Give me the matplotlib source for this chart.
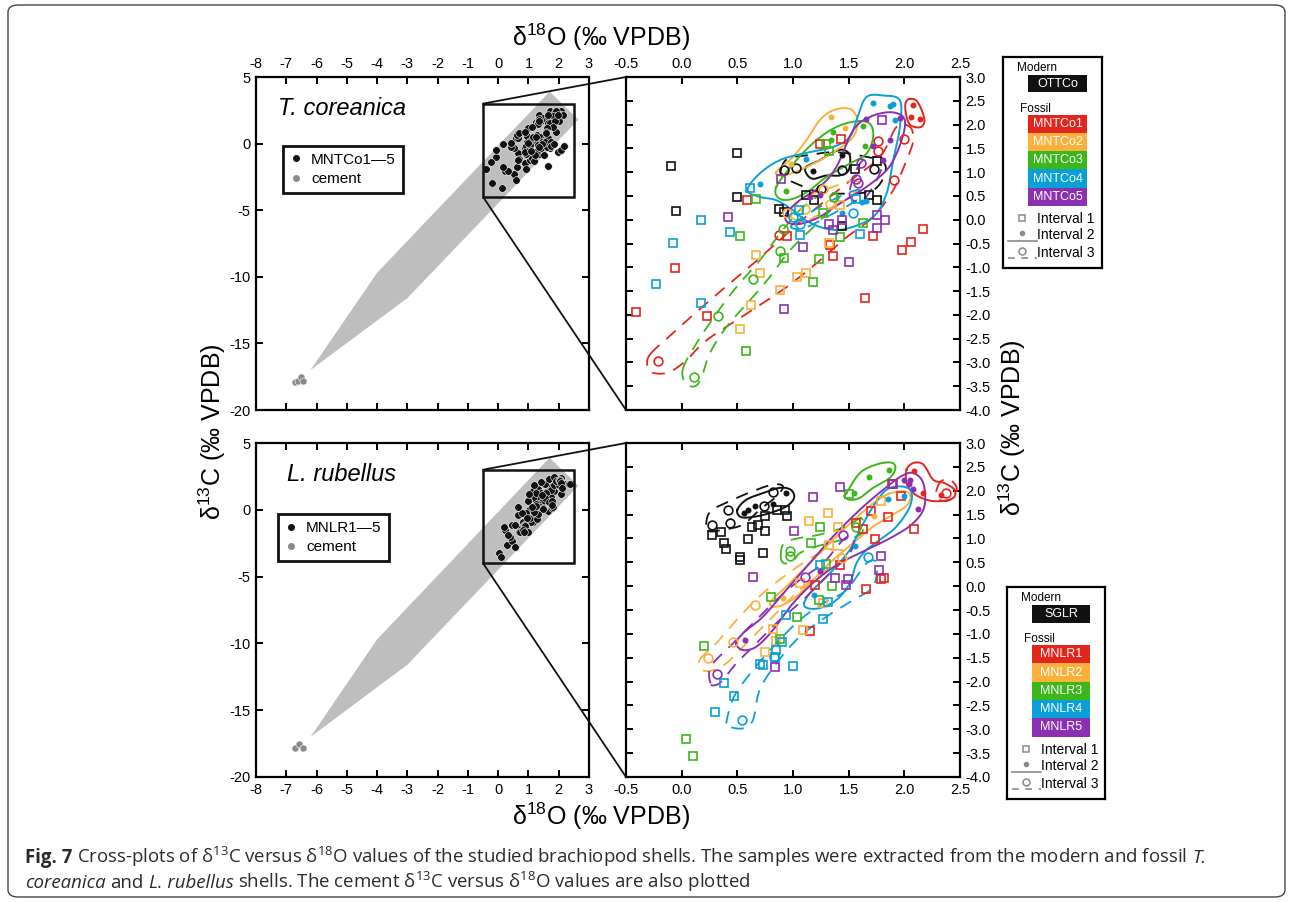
import numpy as np
import matplotlib
matplotlib.use("Agg")
import matplotlib.pyplot as plt
from matplotlib.patches import Rectangle, FancyBboxPatch, ConnectionPatch
from matplotlib.lines import Line2D
from matplotlib.ticker import MultipleLocator, FuncFormatter
from matplotlib.font_manager import FontProperties
from matplotlib import font_manager

plt.rcParams['font.family'] = ['Liberation Sans', 'DejaVu Sans']
plt.rcParams['mathtext.default'] = 'regular'
plt.rcParams['axes.unicode_minus'] = False

W, H = 1290, 902

# ---------------- data ----------------
COLORS = ["#111111", "#e3261d", "#fbb03b", "#3cb71b", "#0aa0d7", "#8b2fb3"]
TC_NAMES = ["OTTCo", "MNTCo1", "MNTCo2", "MNTCo3", "MNTCo4", "MNTCo5"]
LR_NAMES = ["SGLR", "MNLR1", "MNLR2", "MNLR3", "MNLR4", "MNLR5"]

# grey diagenetic trend band (left panels)
BAND_X = [-6.2, -4.0, 1.7, 2.65, -3.0]
BAND_Y = [-17.0, -9.7, 3.9, 1.8, -11.6]

CEMENT_TC_X = [-6.71, -6.61, -6.51, -6.45]
CEMENT_TC_Y = [-17.9, -17.85, -17.5, -17.8]
CEMENT_LR_X = [-6.70, -6.58, -6.45]
CEMENT_LR_Y = [-17.83, -17.5, -17.8]

# --- T. coreanica (interval 1 = squares, 2 = dots, 3 = rings) ---
TC_OTTCO_SQ = [(-0.10, 1.13), (0.50, 1.40), (0.50, 0.47), (-0.05, 0.18), (0.87, 0.22), (0.92, 0.17),
               (1.12, 0.52), (1.19, 0.41), (1.44, -0.13), (1.56, 1.07), (1.68, 0.52), (1.75, 0.41), (1.75, 1.23)]
TC_OTTCO_DOT = [(1.18, 1.03), (1.44, 1.37)]
TC_OTTCO_RING = [(0.92, 1.04), (1.03, 1.09), (1.44, 1.04), (1.73, 1.07), (1.25, 0.65)]
TC_MNTCO1_SQ = [(-0.41, -1.94), (-0.06, -1.01), (0.23, -2.03), (0.59, 0.41), (0.95, -0.35), (1.33, -0.54),
                (1.36, -0.77), (1.65, -1.65), (1.72, -0.35), (1.98, -0.63), (2.06, -0.47), (2.17, -0.19),
                (1.24, 1.60), (1.43, 1.69)]
TC_MNTCO1_DOT = [(2.08, 2.41), (2.06, 2.15), (2.14, 2.11)]
TC_MNTCO1_RING = [(-0.21, -2.98), (0.87, -0.32), (1.76, 1.65), (1.76, 1.44), (1.91, 0.84), (2.00, 1.70)]
TC_MNTCO2_SQ = [(0.67, -0.74), (0.70, -1.12), (0.88, -1.48), (0.62, -1.79), (0.52, -2.30), (1.04, -1.21),
                (1.12, -1.11), (1.32, -0.48), (1.42, 0.31)]
TC_MNTCO2_DOT = [(1.34, 2.16), (0.98, 1.18), (1.47, 1.92)]
TC_MNTCO2_RING = [(1.11, 0.23), (1.27, 0.65), (1.33, 0.34), (0.95, 0.15)]
TC_MNTCO3_SQ = [(0.67, 0.43), (0.52, -0.34), (0.92, -0.81), (1.18, -1.31), (1.23, -0.83), (0.58, -2.77),
                (1.27, 0.15), (1.42, -0.36), (1.63, -0.06), (1.30, 1.60), (1.32, 1.45)]
TC_MNTCO3_DOT = [(1.36, 1.85), (1.34, 1.67), (1.63, 1.98), (1.65, 1.56), (0.94, 0.60)]
TC_MNTCO3_RING = [(0.91, -0.20), (0.88, -0.66), (0.64, -1.24), (0.33, -2.02), (0.11, -3.31), (1.37, 0.48)]
TC_MNTCO4_SQ = [(0.17, 0.0), (-0.08, -0.48), (-0.23, -1.35), (0.17, -1.75), (0.43, -0.25), (0.61, 0.66),
                (1.06, -0.32), (1.05, 0.20), (1.60, -0.29), (1.57, 0.43)]
TC_MNTCO4_DOT = [(1.72, 2.45), (1.87, 2.40), (1.90, 2.43), (1.92, 2.10), (0.70, 0.76), (1.12, 1.27),
                 (1.44, 0.15), (1.62, 0.38), (1.66, 0.40)]
TC_MNTCO4_RING = [(1.54, 0.14), (1.06, -0.09), (1.00, 0.05)]
TC_MNTCO5_SQ = [(0.42, 0.06), (0.89, 0.86), (1.09, -0.57), (0.92, -1.88), (1.50, -0.88), (1.32, -0.08),
                (1.44, 0.0), (1.75, 0.10), (1.75, -0.17), (1.83, -0.01), (1.80, 2.10), (1.36, -0.22)]
TC_MNTCO5_DOT = [(1.15, 0.48), (1.24, 0.52), (1.72, 1.55), (1.87, 1.68), (1.81, 1.25), (1.96, 2.14), (1.66, 2.11)]
TC_MNTCO5_RING = [(1.61, 1.19), (1.57, 0.85), (1.58, 0.77)]

# enclosing loops (interval 2 solid, interval 3 dashed)
TC_OTTCO_LOOP2 = [(1.12, 1.11), (1.24, 1.25), (1.36, 1.42), (1.45, 1.47), (1.51, 1.35), (1.50, 1.04),
                  (1.42, 0.93), (1.30, 0.93), (1.18, 0.86), (1.12, 0.97)]
TC_OTTCO_LOOP3 = [(0.89, 1.04), (0.95, 1.28), (1.12, 1.35), (1.36, 1.42), (1.60, 1.35), (1.81, 1.21),
                  (1.82, 0.93), (1.72, 0.62), (1.51, 0.55), (1.24, 0.58), (1.03, 0.76), (0.91, 0.90)]
TC_MNTCO1_LOOP2 = [(2.05, 2.54), (2.12, 2.47), (2.18, 2.12), (2.15, 1.95), (2.06, 1.98), (2.02, 2.16), (2.01, 2.44)]
TC_MNTCO1_LOOP3 = [(-0.28, -2.82), (-0.12, -2.47), (0.25, -1.70), (0.64, -0.93), (0.94, -0.30), (1.18, 0.19),
                   (1.48, 0.76), (1.78, 1.32), (1.93, 1.95), (2.05, 1.95), (2.08, 1.67), (2.02, 1.25),
                   (1.90, 0.62), (1.72, 0.06), (1.48, -0.37), (1.24, -0.86), (0.94, -1.42), (0.58, -1.98),
                   (0.22, -2.54), (0.04, -2.96), (-0.12, -3.21), (-0.27, -3.21), (-0.31, -3.03)]
TC_MNTCO2_LOOP2 = [(0.85, 1.00), (1.00, 1.32), (1.12, 1.67), (1.24, 2.09), (1.36, 2.30), (1.51, 2.33),
                   (1.58, 2.09), (1.54, 1.74), (1.39, 1.46), (1.24, 1.25), (1.06, 1.04), (0.91, 0.93)]
TC_MNTCO2_LOOP3 = [(0.97, 0.20), (1.12, 0.48), (1.36, 0.69), (1.54, 0.83), (1.60, 0.72), (1.51, 0.48),
                   (1.30, 0.20), (1.12, -0.02), (1.00, 0.02)]
TC_MNTCO3_LOOP2 = [(0.85, 0.69), (1.03, 1.25), (1.21, 1.67), (1.39, 1.95), (1.57, 2.07), (1.69, 2.02),
                   (1.72, 1.74), (1.66, 1.39), (1.51, 1.18), (1.30, 0.90), (1.15, 0.62), (1.00, 0.44), (0.88, 0.44)]
TC_MNTCO3_LOOP3 = [(0.01, -3.14), (0.13, -2.61), (0.31, -1.98), (0.49, -1.42), (0.70, -0.86), (0.88, -0.30),
                   (1.06, 0.20), (1.27, 0.55), (1.39, 0.55), (1.36, 0.27), (1.18, -0.16), (0.97, -0.65),
                   (0.79, -1.21), (0.61, -1.70), (0.40, -2.26), (0.25, -2.82), (0.19, -3.24), (0.13, -3.49),
                   (0.04, -3.45)]
TC_MNTCO4_LOOP2 = [(0.59, 0.62), (0.70, 0.97), (0.88, 1.25), (1.09, 1.39), (1.36, 1.53), (1.51, 1.74),
                   (1.58, 2.16), (1.66, 2.58), (1.81, 2.61), (1.96, 2.51), (1.96, 1.95), (1.90, 1.25),
                   (1.84, 0.55), (1.72, 0.06), (1.48, -0.19), (1.30, -0.19), (1.12, -0.02), (1.00, 0.20),
                   (0.85, 0.41), (0.70, 0.48)]
TC_MNTCO4_LOOP3 = [(1.00, -0.09), (1.24, 0.27), (1.48, 0.55), (1.60, 0.62), (1.57, 0.41), (1.36, 0.13),
                   (1.12, -0.16), (1.01, -0.19)]
TC_MNTCO5_LOOP2 = [(0.94, 0.13), (1.06, 0.41), (1.24, 0.69), (1.39, 1.11), (1.54, 1.88), (1.69, 2.16),
                   (1.87, 2.26), (1.99, 2.16), (2.00, 1.88), (1.93, 1.39), (1.84, 1.04), (1.66, 0.69),
                   (1.42, 0.34), (1.24, 0.06), (1.06, -0.09), (0.95, -0.05)]
TC_MNTCO5_LOOP3 = [(1.51, 0.62), (1.60, 1.18), (1.72, 1.32), (1.81, 1.25), (1.75, 0.83), (1.63, 0.41), (1.54, 0.41)]

# --- L. rubellus ---
LR_SGLR_SQ = [(0.27, 1.08), (0.35, 1.13), (0.38, 0.90), (0.40, 0.77), (0.52, 0.62), (0.52, 0.54), (0.60, 0.98),
              (0.63, 1.25), (0.69, 1.29), (0.75, 1.15), (0.73, 0.69), (0.75, 1.48), (0.86, 1.59), (0.93, 1.60),
              (0.95, 1.47)]
LR_SGLR_DOT = [(0.56, 1.53), (0.60, 1.60), (0.66, 1.69), (0.82, 1.73), (0.94, 1.95)]
LR_SGLR_RING = [(0.27, 1.29), (0.42, 1.60), (0.43, 1.32), (0.74, 1.67), (0.82, 1.97)]
LR_MNLR1_SQ = [(1.70, 1.58), (1.63, 1.19), (1.57, 1.33), (1.85, 1.44), (1.74, 0.98), (1.97, 1.88), (1.89, 2.15),
               (2.09, 1.20), (1.42, 0.45), (1.20, 0.03), (1.15, -0.95), (1.66, -0.06), (1.79, 0.15), (1.82, 0.18)]
LR_MNLR1_DOT = [(2.09, 2.41), (2.17, 1.95), (2.33, 1.92)]
LR_MNLR1_RING = [(2.37, 1.96)]
LR_MNLR2_SQ = [(1.14, 1.37), (1.31, 1.53), (1.06, 0.07), (0.82, -0.90), (0.75, -1.39), (1.09, -0.92), (1.32, 0.87),
               (1.40, 1.24), (1.27, -0.36), (1.79, 1.78), (0.85, -1.16)]
LR_MNLR2_DOT = [(0.91, -0.24), (1.73, 1.47)]
LR_MNLR2_RING = [(0.24, -1.50), (0.46, -1.17), (0.66, -0.39), (1.44, 0.59)]
LR_MNLR3_SQ = [(0.04, -3.21), (0.10, -3.56), (0.20, -1.25), (0.80, -0.23), (1.04, -0.64), (0.88, -1.11),
               (1.23, -0.30), (1.35, 0.0), (1.16, 0.90), (1.24, 1.24), (1.50, 1.93), (1.30, 0.46)]
LR_MNLR3_DOT = [(1.55, 1.96), (1.68, 2.29), (1.86, 2.43)]
LR_MNLR3_RING = [(0.97, 0.74), (0.97, 0.64), (1.57, 1.24)]
LR_MNLR4_SQ = [(0.30, -2.63), (0.47, -2.30), (0.38, -2.04), (0.70, -1.64), (0.73, -1.66), (0.84, -1.48),
               (0.85, -1.34), (0.90, -1.18), (0.94, -0.61), (1.00, -1.67), (1.27, -0.69), (1.24, 0.45), (1.31, -0.34)]
LR_MNLR4_DOT = [(1.19, -0.18), (1.56, 0.85), (1.85, 1.82), (2.00, 1.89)]
LR_MNLR4_RING = [(0.54, -2.81), (0.83, -1.48), (1.67, 0.61)]
LR_MNLR5_SQ = [(1.42, 2.08), (1.18, 1.86), (1.01, 1.16), (0.64, 0.20), (1.38, 0.18), (1.49, 0.15), (1.48, 0.03),
               (1.79, 0.64), (1.77, 0.34), (0.84, -1.69), (1.90, 2.15)]
LR_MNLR5_DOT = [(0.57, -1.13), (1.24, 0.32), (2.00, 2.23), (2.05, 2.23), (2.04, 2.14), (2.08, 2.04), (2.12, 1.62)]
LR_MNLR5_RING = [(0.32, -1.85), (1.11, 0.20), (1.45, 1.08)]

LR_SGLR_LOOP2 = [(0.50, 1.60), (0.58, 1.81), (0.73, 1.95), (0.88, 2.06), (0.98, 2.02), (1.01, 1.85), (0.94, 1.67),
                 (0.79, 1.53), (0.64, 1.45), (0.53, 1.45)]
LR_SGLR_LOOP3 = [(0.22, 1.29), (0.26, 1.57), (0.43, 1.78), (0.64, 1.99), (0.82, 2.13), (0.91, 2.09), (0.85, 1.88),
                 (0.70, 1.60), (0.55, 1.29), (0.37, 1.18), (0.25, 1.15)]
LR_MNLR1_LOOP2 = [(2.02, 2.44), (2.08, 2.58), (2.17, 2.55), (2.26, 2.23), (2.36, 2.16), (2.45, 2.02), (2.44, 1.85),
                  (2.32, 1.78), (2.20, 1.81), (2.08, 1.95), (2.02, 2.16)]
LR_MNLR1_LOOP3 = [(2.29, 2.02), (2.33, 2.20), (2.41, 2.23), (2.47, 2.06), (2.44, 1.85), (2.35, 1.78), (2.29, 1.88)]
LR_MNLR2_LOOP2 = [(0.80, -0.32), (0.94, -0.01), (1.12, 0.41), (1.36, 0.97), (1.60, 1.50), (1.81, 1.88),
                  (1.97, 1.99), (2.05, 1.92), (2.03, 1.71), (1.90, 1.50), (1.72, 1.25), (1.54, 0.90),
                  (1.36, 0.55), (1.18, 0.13), (1.03, -0.22), (0.91, -0.39), (0.82, -0.43)]
LR_MNLR2_LOOP3 = [(0.16, -1.55), (0.31, -1.20), (0.52, -0.64), (0.73, -0.15), (1.00, 0.34), (1.24, 0.69),
                  (1.43, 0.76), (1.48, 0.62), (1.30, 0.34), (1.06, -0.08), (0.79, -0.71), (0.58, -1.20),
                  (0.40, -1.62), (0.28, -1.76), (0.19, -1.76)]
LR_MNLR3_LOOP2 = [(1.48, 1.95), (1.60, 2.37), (1.75, 2.55), (1.88, 2.59), (1.92, 2.48), (1.87, 2.27),
                  (1.72, 2.06), (1.60, 1.85), (1.51, 1.81), (1.46, 1.88)]
LR_MNLR3_LOOP3 = [(0.89, 0.62), (0.92, 0.90), (1.06, 1.01), (1.24, 1.08), (1.48, 1.25), (1.61, 1.43),
                  (1.63, 1.18), (1.57, 1.04), (1.39, 0.94), (1.21, 0.83), (1.06, 0.69), (1.00, 0.52), (0.92, 0.48)]
LR_MNLR4_LOOP2 = [(1.10, -0.36), (1.15, -0.15), (1.24, 0.06), (1.36, 0.34), (1.51, 0.76), (1.60, 1.18),
                  (1.72, 1.67), (1.84, 2.02), (1.97, 2.09), (2.06, 1.99), (2.05, 1.67), (1.93, 1.25),
                  (1.78, 0.97), (1.66, 0.76), (1.57, 0.48), (1.51, 0.06), (1.39, -0.29), (1.24, -0.46), (1.13, -0.46)]
LR_MNLR4_LOOP3 = [(0.40, -2.88), (0.47, -2.32), (0.64, -1.76), (0.85, -1.20), (1.06, -0.71), (1.27, -0.36),
                  (1.48, -0.08), (1.66, 0.48), (1.75, 0.48), (1.72, -0.01), (1.54, -0.29), (1.30, -0.64),
                  (1.06, -1.06), (0.85, -1.62), (0.70, -2.18), (0.64, -2.81), (0.55, -2.98), (0.43, -2.95)]
LR_MNLR5_LOOP2 = [(0.49, -1.20), (0.55, -0.99), (0.73, -0.64), (0.94, -0.08), (1.15, 0.48), (1.36, 1.04),
                  (1.60, 1.60), (1.81, 2.02), (1.97, 2.30), (2.08, 2.37), (2.17, 2.16), (2.18, 1.67),
                  (2.08, 1.32), (1.90, 1.04), (1.66, 0.76), (1.42, 0.48), (1.21, 0.13), (1.00, -0.36),
                  (0.82, -0.92), (0.67, -1.27), (0.55, -1.34)]
LR_MNLR5_LOOP3 = [(0.26, -2.04), (0.26, -1.69), (0.43, -1.27), (0.64, -0.78), (0.85, -0.29), (1.06, 0.13),
                  (1.27, 0.48), (1.45, 0.97), (1.54, 1.04), (1.51, 0.69), (1.30, 0.20), (1.09, -0.29),
                  (0.88, -0.71), (0.67, -1.20), (0.49, -1.62), (0.37, -1.97), (0.31, -2.07)]

TC_SERIES = [
    (TC_OTTCO_SQ, TC_OTTCO_DOT, TC_OTTCO_RING, TC_OTTCO_LOOP2, TC_OTTCO_LOOP3),
    (TC_MNTCO1_SQ, TC_MNTCO1_DOT, TC_MNTCO1_RING, TC_MNTCO1_LOOP2, TC_MNTCO1_LOOP3),
    (TC_MNTCO2_SQ, TC_MNTCO2_DOT, TC_MNTCO2_RING, TC_MNTCO2_LOOP2, TC_MNTCO2_LOOP3),
    (TC_MNTCO3_SQ, TC_MNTCO3_DOT, TC_MNTCO3_RING, TC_MNTCO3_LOOP2, TC_MNTCO3_LOOP3),
    (TC_MNTCO4_SQ, TC_MNTCO4_DOT, TC_MNTCO4_RING, TC_MNTCO4_LOOP2, TC_MNTCO4_LOOP3),
    (TC_MNTCO5_SQ, TC_MNTCO5_DOT, TC_MNTCO5_RING, TC_MNTCO5_LOOP2, TC_MNTCO5_LOOP3),
]
LR_SERIES = [
    (LR_SGLR_SQ, LR_SGLR_DOT, LR_SGLR_RING, LR_SGLR_LOOP2, LR_SGLR_LOOP3),
    (LR_MNLR1_SQ, LR_MNLR1_DOT, LR_MNLR1_RING, LR_MNLR1_LOOP2, LR_MNLR1_LOOP3),
    (LR_MNLR2_SQ, LR_MNLR2_DOT, LR_MNLR2_RING, LR_MNLR2_LOOP2, LR_MNLR2_LOOP3),
    (LR_MNLR3_SQ, LR_MNLR3_DOT, LR_MNLR3_RING, LR_MNLR3_LOOP2, LR_MNLR3_LOOP3),
    (LR_MNLR4_SQ, LR_MNLR4_DOT, LR_MNLR4_RING, LR_MNLR4_LOOP2, LR_MNLR4_LOOP3),
    (LR_MNLR5_SQ, LR_MNLR5_DOT, LR_MNLR5_RING, LR_MNLR5_LOOP2, LR_MNLR5_LOOP3),
]


# ---------------- helpers ----------------
def smooth_loop(pts, n=16):
    # closed Catmull-Rom curve through the given points
    p = np.asarray(pts, dtype=float)
    m = len(p)
    t = np.linspace(0, 1, n, endpoint=False)[:, None]
    segs = []
    for i in range(m):
        p0, p1, p2, p3 = p[(i - 1) % m], p[i], p[(i + 1) % m], p[(i + 2) % m]
        segs.append(0.5 * (2 * p1 + (-p0 + p2) * t + (2 * p0 - 5 * p1 + 4 * p2 - p3) * t ** 2
                           + (-p0 + 3 * p1 - 3 * p2 + p3) * t ** 3))
    out = np.vstack(segs)
    return np.vstack([out, out[:1]])


def xy(pts):
    a = np.asarray(pts, dtype=float).reshape(-1, 2)
    return a[:, 0], a[:, 1]


def px(x, y, w=0, h=0):
    return [x / W, 1 - (y + h) / H, w / W, h / H]


def style_ticks(ax, top, right):
    ax.tick_params(which='both', direction='in', length=5, width=1.4, top=True, right=True,
                   labelsize=10.5, pad=4,
                   labeltop=top, labelbottom=not top, labelleft=not right, labelright=right)
    for sp in ax.spines.values():
        sp.set_linewidth(1.6)


def overview_panel(ax, series, cem_x, cem_y, title, legend_label, top):
    ax.set_xlim(-8, 3)
    ax.set_ylim(-20, 5)
    ax.xaxis.set_major_locator(MultipleLocator(1))
    ax.yaxis.set_major_locator(MultipleLocator(5))
    ax.xaxis.set_major_formatter(FuncFormatter(lambda v, p: f"{v:g}"))
    ax.yaxis.set_major_formatter(FuncFormatter(lambda v, p: f"{v:g}"))
    style_ticks(ax, top, False)
    ax.fill(BAND_X, BAND_Y, color='#bdbebd', lw=0, zorder=1)
    # fossil shells only (modern series excluded)
    allpts = np.vstack([np.asarray(s[k], dtype=float).reshape(-1, 2) for s in series[1:] for k in range(3)])
    ax.scatter(allpts[:, 0], allpts[:, 1], s=30, c='#111111', edgecolors='white', linewidths=0.4, zorder=3)
    ax.scatter(cem_x, cem_y, s=26, c='#8a8a8a', edgecolors='white', linewidths=0.4, zorder=3)
    ax.add_patch(Rectangle((-0.5, -4), 3, 7, fill=False, ec='#111111', lw=1.8, zorder=4))
    ax.text(0.066 if top else 0.093, 0.886, title, transform=ax.transAxes, fontsize=17,
            style='italic', va='baseline', ha='left')
    handles = [Line2D([], [], marker='o', ls='', color='#111111', ms=4),
               Line2D([], [], marker='o', ls='', color='#8a8a8a', ms=4)]
    leg = ax.legend(handles, [legend_label, 'cement'], loc='upper left',
                    bbox_to_anchor=(0.081, 0.793) if top else (0.066, 0.787),
                    borderaxespad=0, fontsize=11, frameon=True, fancybox=False, framealpha=1,
                    edgecolor='#111111', handlelength=0.8, handletextpad=0.6, borderpad=0.45,
                    labelspacing=0.35)
    leg.get_frame().set_linewidth(2)


def zoom_panel(ax, series, top):
    ax.set_xlim(-0.5, 2.5)
    ax.set_ylim(-4, 3)
    ax.xaxis.set_major_locator(MultipleLocator(0.5))
    ax.yaxis.set_major_locator(MultipleLocator(0.5))
    fmt = FuncFormatter(lambda v, p: f"{v:.1f}")
    ax.xaxis.set_major_formatter(fmt)
    ax.yaxis.set_major_formatter(fmt)
    style_ticks(ax, top, True)
    for (sq, dot, ring, loop2, loop3), c in zip(series, COLORS):
        lx, ly = smooth_loop(loop2).T
        ax.plot(lx, ly, color=c, lw=1.4, zorder=2)
        lx, ly = smooth_loop(loop3).T
        ax.plot(lx, ly, color=c, lw=1.3, ls=(0, (7, 5)), zorder=2)
    for (sq, dot, ring, loop2, loop3), c in zip(series, COLORS):
        x, y = xy(sq)
        ax.plot(x, y, 's', ms=6.3, mfc='none', mec=c, mew=1.2, zorder=3)
        x, y = xy(ring)
        ax.plot(x, y, 'o', ms=6.3, mfc='none', mec=c, mew=1.2, zorder=3)
        x, y = xy(dot)
        ax.plot(x, y, 'o', ms=4.3, color=c, mew=0, zorder=3)


def draw_key(ax, modern, fossils):
    ax.set_xlim(0, 99)
    ax.set_ylim(212, 0)
    ax.set_xticks([])
    ax.set_yticks([])
    for sp in ax.spines.values():
        sp.set_linewidth(1.6)
    ax.text(14, 11, 'Modern', fontsize=8.5, va='center')
    ax.add_patch(Rectangle((25, 18), 59, 17.5, color=COLORS[0], lw=0))
    ax.text(54.5, 27, modern, color='white', fontsize=9, ha='center', va='center')
    ax.text(17, 52, 'Fossil', fontsize=8.5, va='center')
    for i, (name, c) in enumerate(zip(fossils, COLORS[1:])):
        y0 = 58 + i * 18.3
        ax.add_patch(Rectangle((25, y0), 59, 18.3, color=c, lw=0))
        ax.text(54.5, y0 + 9.3, name, color='white', fontsize=9, ha='center', va='center')
    g = '#8a8a8a'
    ax.plot(19, 162, 's', ms=5, mfc='none', mec=g, mew=1.1)
    ax.text(34, 163, 'Interval 1', fontsize=10, va='center')
    ax.plot(19, 177, 'o', ms=4, color=g, mew=0)
    ax.plot([5, 34], [185, 185], color=g, lw=1.2)
    ax.text(34, 179, 'Interval 2', fontsize=10, va='center')
    ax.plot(19, 195, 'o', ms=5, mfc='none', mec=g, mew=1.1)
    ax.plot([5, 34], [202, 202], color=g, lw=1.2, ls=(0, (4, 4)))
    ax.text(34, 197, 'Interval 3', fontsize=10, va='center')


def weight_num(w):
    return w if isinstance(w, (int, float)) else font_manager.weight_dict.get(w, 400)


def find_face(fam, style, stretch, weights):
    for wt in weights:
        for f in font_manager.fontManager.ttflist:
            if (f.name == fam and f.style == style and f.stretch == stretch
                    and weight_num(f.weight) == wt):
                return FontProperties(fname=f.fname)
    return None


def caption_faces():
    # one stretch for all three faces, semi-condensed preferred
    for stretch in ("semi-condensed", "condensed", "normal"):
        reg = find_face("Open Sans", "normal", stretch, (400, 300))
        bold = find_face("Open Sans", "normal", stretch, (700, 600))
        it = find_face("Open Sans", "italic", stretch, (400, 300))
        if reg and bold and it:
            return reg, bold, it
    return (FontProperties(family=['Liberation Sans']),
            FontProperties(family=['Liberation Sans'], weight='bold'),
            FontProperties(family=['Liberation Sans'], style='italic'))


def draw_runs(fig, x, y, runs, size):
    r = fig.canvas.get_renderer()
    arts = []
    for s, fp in runs:
        fp = fp.copy()
        fp.set_size(size)
        core = s.rstrip(' ')
        t = fig.text(x, y, core, fontproperties=fp, va='baseline', ha='left', color='#2a2a2a')
        arts.append(t)
        x += t.get_window_extent(renderer=r).width / fig.bbox.width
        n_sp = len(s) - len(core)
        if n_sp:
            a = fig.text(0, 0, 'x x', fontproperties=fp)
            b = fig.text(0, 0, 'xx', fontproperties=fp)
            sp = a.get_window_extent(renderer=r).width - b.get_window_extent(renderer=r).width
            a.remove()
            b.remove()
            x += n_sp * sp / fig.bbox.width
    return x, arts


# ---------------- figure ----------------
fig = plt.figure(figsize=(W / 100, H / 100), dpi=100)

ax_tl = fig.add_axes(px(256, 77, 333, 333))
ax_tr = fig.add_axes(px(626, 77, 334, 333))
ax_bl = fig.add_axes(px(256, 443, 333, 334))
ax_br = fig.add_axes(px(626, 443, 334, 334))

overview_panel(ax_tl, TC_SERIES, CEMENT_TC_X, CEMENT_TC_Y, 'T. coreanica', 'MNTCo1\u20145', True)
overview_panel(ax_bl, LR_SERIES, CEMENT_LR_X, CEMENT_LR_Y, 'L. rubellus', 'MNLR1\u20145', False)
zoom_panel(ax_tr, TC_SERIES, True)
zoom_panel(ax_br, LR_SERIES, False)

for left, right in [(ax_tl, ax_tr), (ax_bl, ax_br)]:
    for (x0, y0), (xa, ya) in [((-0.5, 3), (0, 1)), ((-0.5, -4), (0, 0))]:
        con = ConnectionPatch(xyA=(x0, y0), coordsA=left.transData, xyB=(xa, ya),
                              coordsB=right.transAxes, color='#111111', lw=1.3)
        fig.add_artist(con)

key_t = fig.add_axes(px(1003, 57, 99, 211))
key_b = fig.add_axes(px(1007, 587, 98, 212))
draw_key(key_t, TC_NAMES[0], TC_NAMES[1:])
draw_key(key_b, LR_NAMES[0], LR_NAMES[1:])

xlabel = '\u03b4$^{18}$O (\u2030 VPDB)'
ylabel = '\u03b4$^{13}$C (\u2030 VPDB)'
fig.text(601 / W, 1 - 37 / H, xlabel, fontsize=18, ha='center', va='center')
fig.text(601 / W, 1 - 816 / H, xlabel, fontsize=18, ha='center', va='center')
fig.text(212 / W, 1 - 432 / H, ylabel, fontsize=18, ha='center', va='center', rotation=90)
fig.text(1012 / W, 1 - 428 / H, ylabel, fontsize=18, ha='center', va='center', rotation=90)

# outer frame
fig.add_artist(FancyBboxPatch((8 / W, 1 - 897 / H), 1277 / W, 892 / H,
                              boxstyle='round,pad=0,rounding_size=0.008',
                              transform=fig.transFigure, fill=False, ec='#444444', lw=1))

# caption
fp_reg, fp_bold, fp_it = caption_faces()
line1 = [("Fig. 7 ", fp_bold),
         ("Cross-plots of \u03b4$^{13}$C versus \u03b4$^{18}$O values of the studied brachiopod shells. "
          "The samples were extracted from the modern and fossil ", fp_reg),
         ("T.", fp_it)]
line2 = [("coreanica ", fp_it),
         ("and ", fp_reg),
         ("L. rubellus ", fp_it),
         ("shells. The cement \u03b4$^{13}$C versus \u03b4$^{18}$O values are also plotted", fp_reg)]
x_end, arts = draw_runs(fig, 25 / W, 1 - 863 / H, line1, 12)
cap_size = min(14, 12 * (1177 / W) / (x_end - 25 / W))
for a in arts:
    a.remove()
draw_runs(fig, 25 / W, 1 - 863 / H, line1, cap_size)
draw_runs(fig, 25 / W, 1 - 888 / H, line2, cap_size)

fig.savefig('out.png', dpi=100)
